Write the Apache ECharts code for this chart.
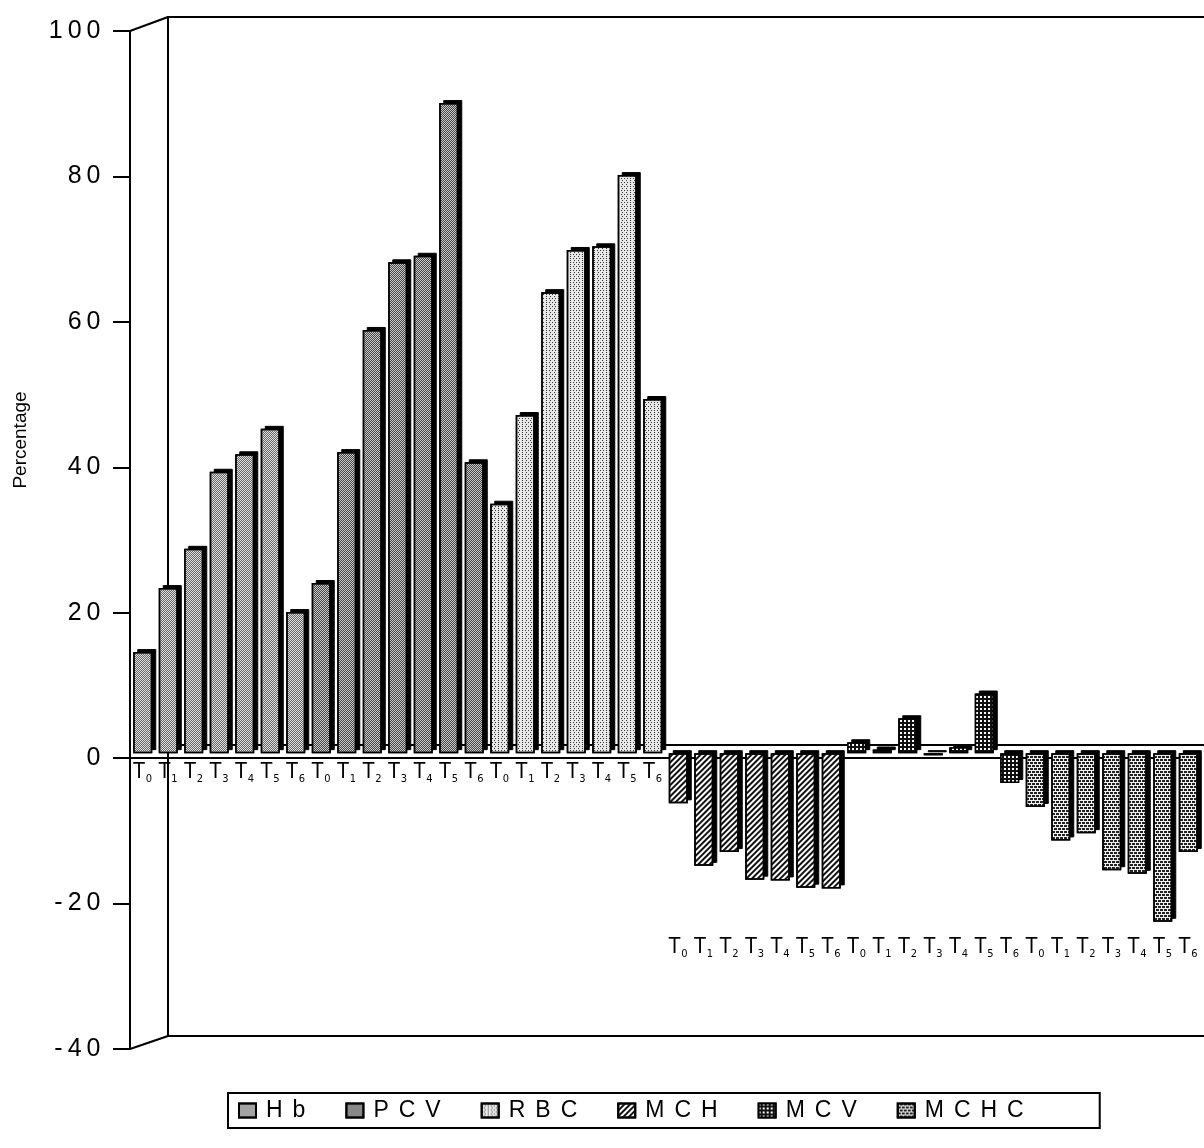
<!DOCTYPE html>
<html>
<head>
<meta charset="utf-8">
<title>Percentage change of blood indices</title>
<script src="https://cdn.jsdelivr.net/npm/echarts@6/dist/echarts.min.js"></script>
<style>
  html, body { margin: 0; padding: 0; background: #fff; }
  #chart { width: 1204px; height: 1148px; }
</style>
</head>
<body>
<div id="chart"></div>
<script>
// Time points shared by every index
const timePoints = ['T0', 'T1', 'T2', 'T3', 'T4', 'T5', 'T6'];
// Blood indices, in plotting order
const indices = ['Hb', 'PCV', 'RBC', 'MCH', 'MCV', 'MCHC'];

// Percentage change per index at T0..T6
const hb   = [13.9, 22.7, 28.1, 38.7, 41.1, 44.6, 19.4];
const pcv  = [23.4, 41.4, 58.2, 67.5, 68.4, 89.4, 40.0];
const rbc  = [34.3, 46.5, 63.4, 69.2, 69.7, 79.5, 48.7];
const mch  = [-6.9, -15.5, -13.6, -17.4, -17.5, -18.5, -18.6];
const mcv  = [1.5, 0.5, 4.8, -0.3, 0.8, 8.2, -4.1];
const mchc = [-7.4, -12.0, -11.0, -16.1, -16.6, -23.2, -13.6];

// Value axis ticks
const yMin = -40, yMax = 100, yStep = 20;

const seriesValues = [hb, pcv, rbc, mch, mcv, mchc];

// One category per bar: 6 indices x 7 time points
const categories = [];
indices.forEach(() => timePoints.forEach(t => categories.push(t)));
const nPos = 21; // the first three indices are labelled beside the zero line

// Monochrome fill patterns for each index
const patterns = [
  { color: '#e0e0e0', decal: { symbol: 'rect', symbolSize: 1, color: '#666', dashArrayX: [[1, 1], [0, 1, 1, 0]], dashArrayY: [1, 0] } },
  { color: '#cccccc', decal: { symbol: 'rect', symbolSize: 1, color: '#444', dashArrayX: [[1, 1], [0, 1, 1, 0]], dashArrayY: [1, 0] } },
  { color: '#e8e8e8', decal: { symbol: 'rect', symbolSize: 1, color: '#333', dashArrayX: [[1, 2], [0, 1.5, 1, 0.5]], dashArrayY: [1, 0.5] } },
  { color: '#ffffff', decal: { symbol: 'rect', symbolSize: 1, color: '#111', dashArrayX: [1, 0], dashArrayY: [1.5, 2], rotation: -Math.PI / 4 } },
  { color: '#111111', decal: { symbol: 'rect', symbolSize: 1, color: '#ffffff', dashArrayX: [2, 2], dashArrayY: [2, 2] } },
  { color: '#f0f0f0', decal: { symbol: 'rect', symbolSize: 1, color: '#222', dashArrayX: [[3, 1], [1, 1, 2, 0]], dashArrayY: [1.5, 1] } }
];

// Spread each 7-value list over its own block of categories
const spread = s => categories.map((_, i) =>
  Math.floor(i / timePoints.length) === s ? seriesValues[s][i % timePoints.length] : '-');

const BAR_W = 19;

// Front faces of the bars
const faceSeries = indices.map((name, s) => ({
  name: name,
  type: 'bar',
  xAxisIndex: 2,
  yAxisIndex: 2,
  barWidth: BAR_W,
  barGap: '-100%',
  z: 3,
  data: spread(s),
  itemStyle: {
    color: patterns[s].color,
    decal: patterns[s].decal,
    borderColor: '#000',
    borderWidth: 1.5
  }
}));

// Dark side/top faces: the same values on a layer shifted back and up
const sideSeries = indices.map((name, s) => ({
  name: name + ' side',
  type: 'bar',
  xAxisIndex: 3,
  yAxisIndex: 3,
  barWidth: BAR_W,
  barGap: '-100%',
  z: 2,
  silent: true,
  data: spread(s),
  itemStyle: { color: '#000', borderColor: '#000', borderWidth: 1 }
}));

const labelFont = "'Liberation Sans Narrow', 'DejaVu Sans Condensed', 'Liberation Sans', sans-serif";
const subRich = {
  t: { fontSize: 21, lineHeight: 22, verticalAlign: 'top', fontFamily: labelFont, color: '#000' },
  s: { fontSize: 11, lineHeight: 11, padding: [12, 0, 0, 1], verticalAlign: 'top', fontFamily: labelFont, color: '#000' }
};
const subLabel = v => '{t|T}{s|' + v.slice(1) + '}';
const spaced = (str, tag) => String(str).split('').map(c => '{' + tag + '|' + c + '}').join('');

// Front wall, back wall, bar layers and label rows
const H = 1148;
const FRONT = { left: 130, top: 31, bottom: 1049 };
const BACK = { left: 168, top: 17, bottom: 1036 };
const gridBase = { outerBoundsMode: 'none', containLabel: false };

const hiddenY = gi => ({
  type: 'value', gridIndex: gi, min: yMin, max: yMax, interval: yStep,
  axisLine: { show: false }, axisTick: { show: false }, axisLabel: { show: false }, splitLine: { show: false }
});
const labelX = (gi, pick) => ({
  type: 'category', gridIndex: gi, data: categories, position: 'bottom',
  axisLine: { show: false, onZero: false }, axisTick: { show: false },
  axisLabel: { interval: 0, margin: 2, formatter: (v, i) => (pick(i) ? subLabel(v) : ''), rich: subRich }
});

const chart = echarts.init(document.getElementById('chart'), null, { renderer: 'canvas' });

const option = {
  animation: false,
  backgroundColor: '#ffffff',
  grid: [
    Object.assign({ left: FRONT.left, top: FRONT.top, right: 3, bottom: H - FRONT.bottom }, gridBase),
    Object.assign({ left: BACK.left, top: BACK.top, right: -200, bottom: H - BACK.bottom, show: true, borderColor: '#000', borderWidth: 2, backgroundColor: 'transparent' }, gridBase),
    Object.assign({ left: FRONT.left, top: 26, right: 3, bottom: H - 1044 }, gridBase),
    Object.assign({ left: FRONT.left + 4, top: 23, right: -1, bottom: H - 1041 }, gridBase),
    Object.assign({ left: FRONT.left, top: 700, right: 3, bottom: H - 760 }, gridBase),
    Object.assign({ left: FRONT.left, top: 880, right: 3, bottom: H - 935 }, gridBase)
  ],
  xAxis: [
    {
      type: 'category', gridIndex: 0, data: categories,
      axisLine: { onZero: true, lineStyle: { color: '#000', width: 2 } },
      axisTick: { show: false }, axisLabel: { show: false }
    },
    {
      type: 'category', gridIndex: 1, data: categories,
      axisLine: { onZero: true, lineStyle: { color: '#000', width: 2 } },
      axisTick: { show: false }, axisLabel: { show: false }
    },
    { type: 'category', gridIndex: 2, data: categories, axisLine: { show: false }, axisTick: { show: false }, axisLabel: { show: false } },
    { type: 'category', gridIndex: 3, data: categories, axisLine: { show: false }, axisTick: { show: false }, axisLabel: { show: false } },
    labelX(4, i => i < nPos),
    labelX(5, i => i >= nPos)
  ],
  yAxis: [
    {
      type: 'value', gridIndex: 0, min: yMin, max: yMax, interval: yStep,
      name: 'Percentage', nameLocation: 'middle', nameGap: 100,
      nameTextStyle: { fontSize: 19, fontFamily: "'Liberation Sans', Arial, sans-serif", color: '#000', padding: [0, 0, 0, 200] },
      axisLine: { show: true, lineStyle: { color: '#000', width: 2 } },
      axisTick: { show: true, length: 17, lineStyle: { color: '#000', width: 2 } },
      splitLine: { show: false },
      axisLabel: {
        margin: 27,
        formatter: v => spaced(v, 'd'),
        rich: { d: { fontSize: 25, padding: [0, 2.5, 0, 2.5], fontFamily: "'Liberation Sans', Arial, sans-serif", color: '#000' } }
      }
    },
    hiddenY(1), hiddenY(2), hiddenY(3), hiddenY(4), hiddenY(5)
  ],
  legend: {
    data: indices.map(n => ({ name: n, icon: 'rect' })),
    left: 228, top: 1093,
    orient: 'horizontal',
    padding: [6, 76, 6, 10],
    itemGap: 40,
    itemWidth: 17,
    itemHeight: 14,
    borderColor: '#000',
    borderWidth: 2,
    borderRadius: 0,
    formatter: name => spaced(name, 'c'),
    textStyle: {
      rich: { c: { fontSize: 23, padding: [0, 5, 0, 5], fontFamily: "'Liberation Sans', Arial, sans-serif", color: '#000' } }
    }
  },
  graphic: [
    // corner edges joining the front axis to the back wall
    { type: 'line', shape: { x1: FRONT.left, y1: FRONT.top, x2: BACK.left, y2: BACK.top }, style: { stroke: '#000', lineWidth: 2 } },
    { type: 'line', shape: { x1: FRONT.left, y1: FRONT.bottom, x2: BACK.left, y2: BACK.bottom }, style: { stroke: '#000', lineWidth: 2 } }
  ],
  series: sideSeries.concat(faceSeries)
};

chart.setOption(option);
</script>
</body>
</html>
